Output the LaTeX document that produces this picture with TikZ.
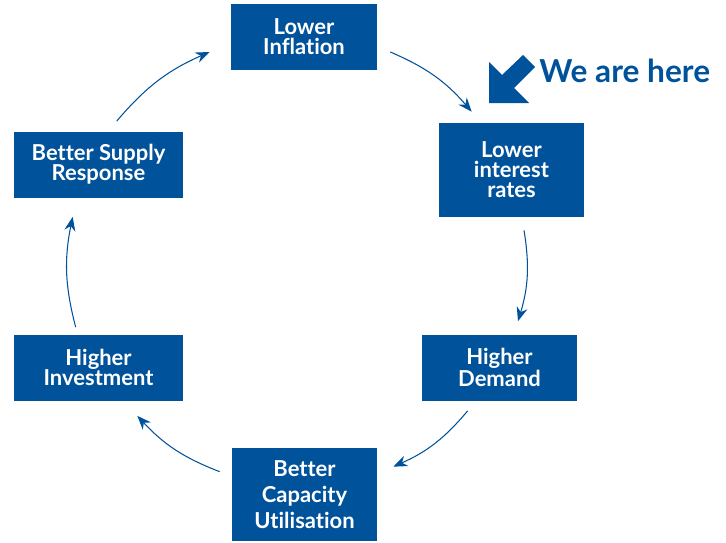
\documentclass[tikz,border=0pt]{standalone}
\usepackage{fontspec}
\setmainfont{Lato}[Ligatures={NoCommon}]
\usetikzlibrary{shapes, arrows.meta, positioning, calc}
\definecolor{ukblue}{RGB}{0,82,155}
\tikzstyle{caja} = [fill=ukblue, text=white, rectangle, align=center, inner sep=0pt, minimum width=2.92cm, minimum height=1.32cm, font=\bfseries\fontsize{12.5}{11.4}\selectfont]
\tikzstyle{flecha} = [draw=ukblue, line width=0.6pt, -{Stealth[length=0.28cm, width=0.22cm]}]

\begin{document}
\begin{tikzpicture}[x=0.02cm, y=-0.02cm]
	\useasboundingbox (0,0) rectangle (726,542);
	\node [caja] (infl) at (304,37) {Lower\\Inflation};
	\node [caja, minimum width=2.9cm, minimum height=1.88cm] (rates) at (511.5,170) {Lower\\interest\\rates};
	\node [caja, minimum width=3.1cm] (demand) at (499.5,367.5) {Higher\\Demand};
	\node [caja, minimum width=2.9cm, minimum height=1.86cm, font=\bfseries\fontsize{12.5}{14.7}\selectfont] (capac) at (304.5,494.5) {Better\\Capacity\\Utilisation};
	\node [caja, minimum width=3.38cm] (invest) at (98.5,367.5) {Higher\\Investment};
	\node [caja, minimum width=3.38cm] (supply) at (98.5,164.5) {Better Supply\\Response};
	\draw [flecha] ($(infl.east)+(13,15)$) to[bend left=13] ($(rates.north west)+(33,-11)$);
	\draw [flecha] ($(rates.south)+(12.5,13)$) to[bend left=13] ($(demand.north)+(18.5,-13)$);
	\draw [flecha] ($(demand.south west)+(46,10)$) to[bend left=13] ($(capac.north east)+(16,19)$);
	\draw [flecha] ($(capac.north west)+(-12,24)$) to[bend left=13] ($(invest.south east)+(-46,15)$);
	\draw [flecha] ($(invest.north west)+(62,-7)$) to[bend left=13] ($(supply.south west)+(59,19)$);
	\draw [flecha] ($(supply.north west)+(103,-10)$) to[bend left=13] ($(infl.west)+(-21,15)$);
	\node [anchor=west, text=ukblue, inner sep=0pt, font=\bfseries\fontsize{18}{20}\selectfont] (here) at (539,71) {We are here};
	\fill [ukblue] (489,103) -- (489,62) -- (502,75) -- (523,55) -- (535,67) -- (514,88) -- (529,103) -- cycle;
\end{tikzpicture}
\end{document}
